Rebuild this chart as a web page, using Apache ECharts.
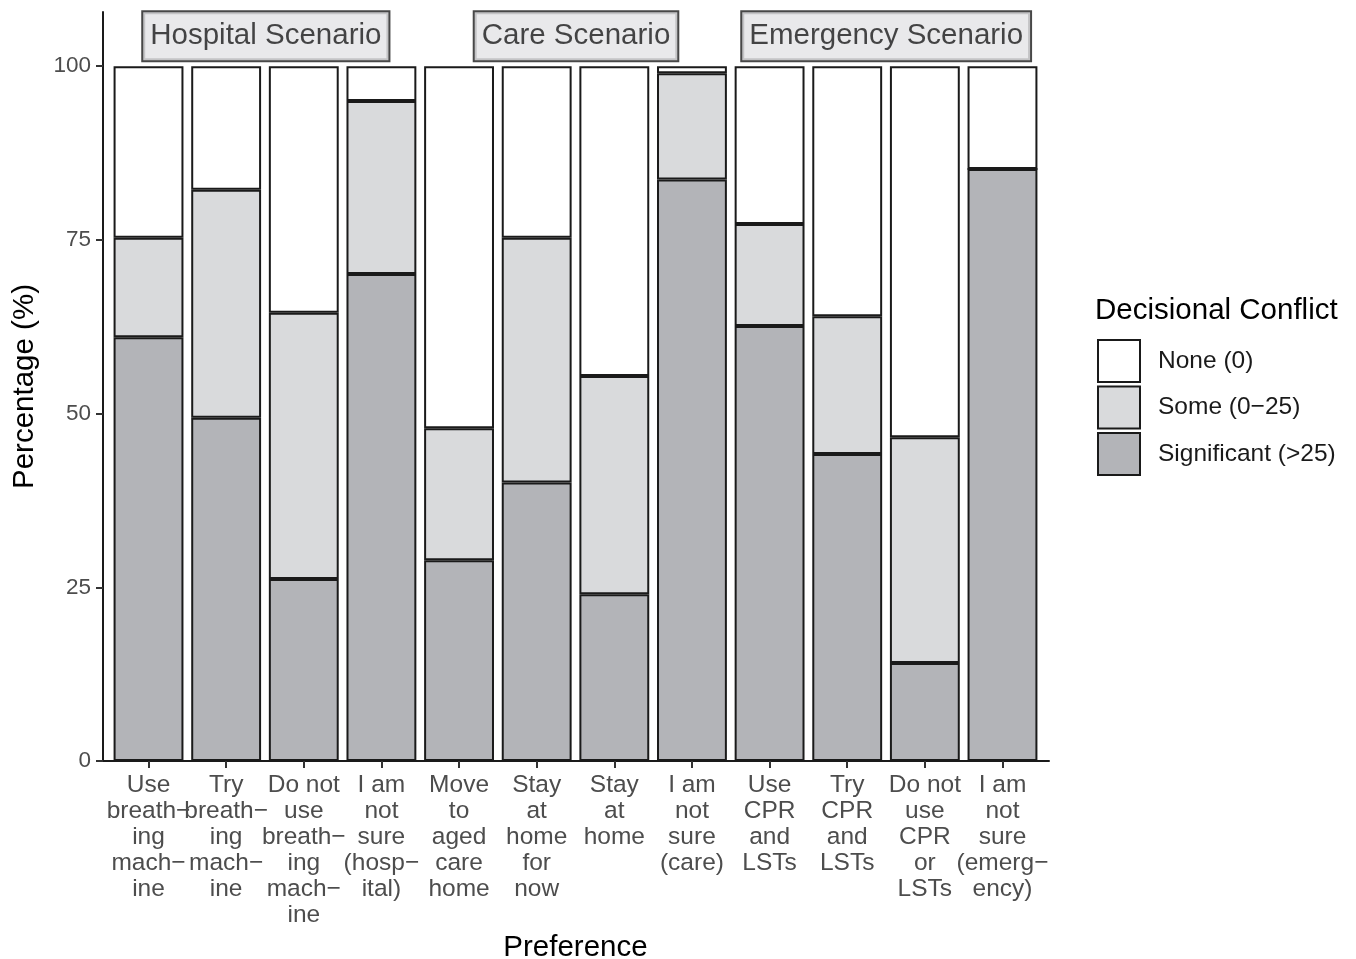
<!DOCTYPE html>
<html>
<head>
<meta charset="utf-8">
<script src="https://cdn.jsdelivr.net/npm/echarts@6/dist/echarts.min.js"></script>
<style>html,body{margin:0;padding:0;background:#fff}#c{width:1356px;height:959px}</style>
</head>
<body>
<div id="c"></div>
<script>
const categories = [
  "Use\nbreath\u2212\ning\nmach\u2212\nine",
  "Try\nbreath\u2212\ning\nmach\u2212\nine",
  "Do not\nuse\nbreath\u2212\ning\nmach\u2212\nine",
  "I am\nnot\nsure\n(hosp\u2212\nital)",
  "Move\nto\naged\ncare\nhome",
  "Stay\nat\nhome\nfor\nnow",
  "Stay\nat\nhome",
  "I am\nnot\nsure\n(care)",
  "Use\nCPR\nand\nLSTs",
  "Try\nCPR\nand\nLSTs",
  "Do not\nuse\nCPR\nor\nLSTs",
  "I am\nnot\nsure\n(emerg\u2212\nency)"
];
const significant = [61.0, 49.4, 26.2, 70.1, 28.9, 40.1, 24.0, 83.7, 62.6, 44.2, 14.1, 85.2];
const some        = [14.3, 32.8, 38.3, 24.9, 19.0, 35.2, 31.4, 15.3, 14.7, 19.8, 32.5, 0.0];
const none        = [24.7, 17.8, 35.5, 5.0, 52.1, 24.7, 44.6, 1.0, 22.7, 36.0, 53.4, 14.8];
const seriesNames = ["Significant (>25)", "Some (0\u221225)", "None (0)"];
const legendOrder = ["None (0)", "Some (0\u221225)", "Significant (>25)"];
const scenarioNames = ["Hospital Scenario", "Care Scenario", "Emergency Scenario"];
const scenarioGroups = [[0, 3], [4, 7], [8, 11]];
const yTicks = [0, 25, 50, 75, 100];

const fills = ["#B3B4B8", "#D9DADC", "#FFFFFF"];
const edge = "#1a1a1a";
const font = "Liberation Sans";
const Y_MAX = 107.8;

function barSeries(name, vals, color) {
  return {
    name: name, type: "bar", stack: "total", barWidth: "90%",
    xAxisIndex: 0, yAxisIndex: 0,
    data: vals,
    itemStyle: { color: color, borderColor: edge, borderWidth: 2 },
    emphasis: { disabled: true }
  };
}

const chart = echarts.init(document.getElementById("c"));
chart.setOption({
  animation: false,
  title: {
    text: "Decisional Conflict", left: 1095, top: 296, padding: 0,
    textStyle: { fontFamily: font, fontSize: 29.5, fontWeight: "normal", color: "#000" }
  },
  legend: {
    data: legendOrder, orient: "vertical", left: 1097, top: 339, padding: 0,
    itemWidth: 42, itemHeight: 42, itemGap: 2.5, icon: "rect",
    itemStyle: { borderColor: edge, borderWidth: 2 },
    textStyle: { fontFamily: font, fontSize: 24.5, color: "#1a1a1a", padding: [0, 0, 0, 13] },
    selectedMode: false
  },
  grid: [
    { left: 109.7, right: 314.7, top: 12, bottom: 198, outerBoundsMode: "none" },
    { left: 103, right: 307, top: 12, bottom: 198, outerBoundsMode: "none" }
  ],
  xAxis: [
    {
      type: "category", gridIndex: 0, data: categories, boundaryGap: true,
      name: "Preference", nameLocation: "middle", nameGap: 172,
      nameTextStyle: { fontFamily: font, fontSize: 29.5, color: "#000" },
      axisLine: { show: false },
      axisTick: { show: true, alignWithLabel: true, length: 7, lineStyle: { color: "#333", width: 2 } },
      axisLabel: { interval: 0, fontFamily: font, fontSize: 24.5, lineHeight: 26, color: "#4d4d4d", margin: 11, align: "center" },
      splitLine: { show: false }
    },
    {
      type: "value", gridIndex: 1, min: -0.6, max: 11.6,
      axisLine: { show: true, onZero: false, lineStyle: { color: edge, width: 2 } },
      axisTick: { show: false }, axisLabel: { show: false }, splitLine: { show: false }
    }
  ],
  yAxis: [
    {
      type: "value", gridIndex: 0, min: 0, max: Y_MAX,
      axisLine: { show: false }, axisTick: { show: false }, axisLabel: { show: false }, splitLine: { show: false }
    },
    {
      type: "value", gridIndex: 1, min: 0, max: Y_MAX,
      name: "Percentage (%)", nameLocation: "middle", nameGap: 63,
      nameTextStyle: { fontFamily: font, fontSize: 29.5, color: "#000" },
      axisLine: { show: true, onZero: false, lineStyle: { color: edge, width: 2 } },
      axisTick: { show: true, customValues: yTicks, length: 7, lineStyle: { color: "#333", width: 2 } },
      axisLabel: { customValues: yTicks, fontFamily: font, fontSize: 22.5, color: "#4d4d4d", margin: 12 },
      splitLine: { show: false }
    }
  ],
  series: [
    barSeries(seriesNames[0], significant, fills[0]),
    barSeries(seriesNames[1], some, fills[1]),
    barSeries(seriesNames[2], none, fills[2]),
    {
      name: "scenarios", type: "scatter", symbolSize: 1, xAxisIndex: 1, yAxisIndex: 1,
      itemStyle: { color: "rgba(0,0,0,0)" }, silent: true, z: 5,
      data: scenarioNames.map((n, k) => ({ name: n, value: [(scenarioGroups[k][0] + scenarioGroups[k][1]) / 2, 104.3] })),
      label: {
        show: true, position: "inside", formatter: p => p.name,
        fontFamily: font, fontSize: 29.5, lineHeight: 32, color: "#1a1a1a",
        backgroundColor: "#E3E4E6", borderColor: edge, borderWidth: 2, padding: [8, 7, 8, 7]
      }
    }
  ]
});
</script>
</body>
</html>
